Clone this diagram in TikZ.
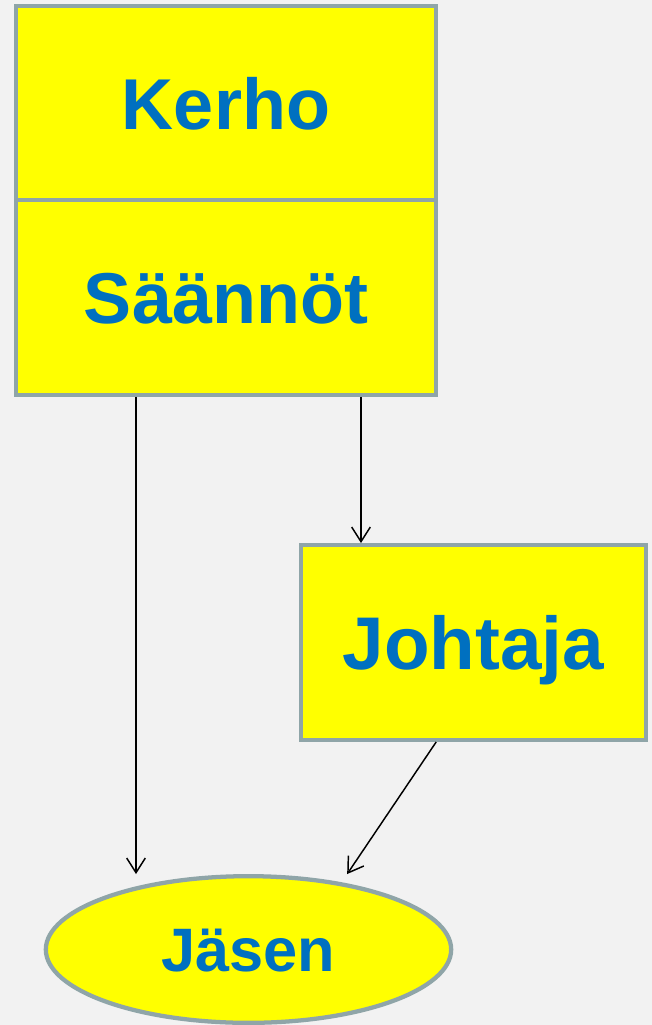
\documentclass[tikz,border=0pt]{standalone}
\usepackage{fontspec}
\setmainfont{Liberation Sans}
\usetikzlibrary{arrows.meta, shapes.geometric, positioning}
\definecolor{bgray}{RGB}{242,242,242}
\definecolor{edge}{RGB}{143,165,168}
\definecolor{txtblue}{RGB}{0,112,192}
\definecolor{boxyellow}{RGB}{255,255,0}
\tikzset{>={Straight Barb[length=11pt,width=14pt]}}
\tikzset{
  box/.style={draw=edge, fill=boxyellow, line width=3.2pt, inner sep=0pt,
    minimum width=315pt, minimum height=146pt, text=txtblue,
    text height=39pt, text depth=0pt,
    font=\fontsize{54}{62}\selectfont\bfseries},
  oval/.style={ellipse, draw=edge, fill=boxyellow, line width=3.2pt, inner sep=0pt,
    minimum width=304pt, minimum height=110pt, text=txtblue,
    text height=33pt, text depth=0pt,
    font=\fontsize{46}{54}\selectfont\bfseries},
  link/.style={->, line width=1.1pt}
}

\begin{document}
\begin{tikzpicture}[x=0.75pt,y=-0.75pt]
            \fill[bgray] (0,0) rectangle (652,1025);
            \useasboundingbox (0,0) rectangle (652,1025);
            \node[box] (kerho) at (226,103) {Kerho};
            \node[box] (saannot) at (226,297.5) {Säännöt};
            \node[box, minimum width=259pt, text height=40pt,
              font=\fontsize{56}{64}\selectfont\bfseries] (johtaja) at (473.5,642.5) {Johtaja};
            \node[oval] (jasen) at (248.5,949.5) {Jäsen};
            \coordinate (left) at (136,0);
            \coordinate (right) at (361,0);
            \draw[link] (saannot.south -| left) -- (left |- jasen.north);
            \draw[link] (saannot.south -| right) -- (johtaja.north -| right);
            \draw[link] ([xshift=-28pt]johtaja.south) -- ([xshift=74pt]jasen.north);
        \end{tikzpicture}
\end{document}
